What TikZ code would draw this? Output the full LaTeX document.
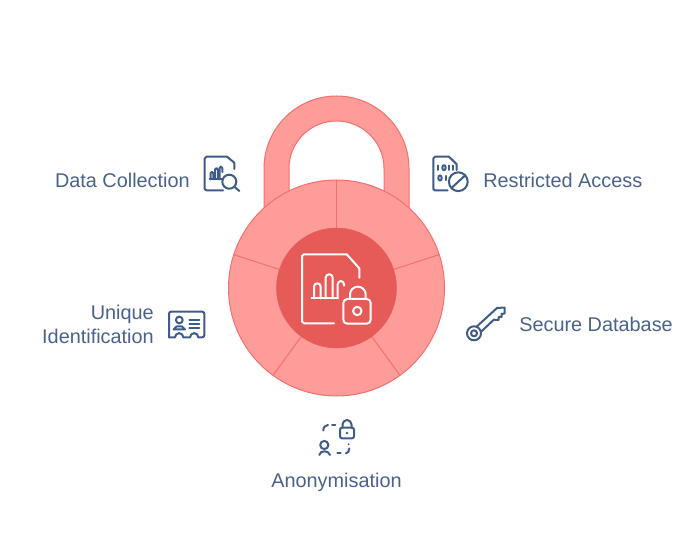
\documentclass[tikz,border=0pt]{standalone}
\usepackage{fontspec}
\setmainfont{Liberation Sans}
\definecolor{lockfill}{HTML}{FE9C9A}
\definecolor{lockline}{HTML}{F4706E}
\definecolor{lockcore}{HTML}{E65A58}
\definecolor{labelblue}{HTML}{4A628A}
\definecolor{iconblue}{HTML}{3F5B87}
\tikzstyle{ring part}=[draw=lockline,fill=lockfill,line width=0.75pt]
\tikzstyle{core}=[circle,fill=lockcore,draw=lockcore!90!lockfill,minimum size=90pt,inner sep=0pt]
\tikzstyle{label}=[text=labelblue,font=\fontsize{14.9}{18}\selectfont,inner sep=0pt]
\tikzstyle{icon}=[draw=iconblue,line width=1.5pt,line cap=round,line join=round]
\tikzstyle{white icon}=[draw=white,line width=1.5pt,line cap=round,line join=round]

\begin{document}
\begin{tikzpicture}[x=0.75pt,y=-0.75pt]
    \useasboundingbox (0,0) rectangle (685,541);
    % shackle
    \path[ring part] (264,240) -- (264,168.5) arc (180:360:72.5) -- (409,240) -- (384,240)
        -- (384,168.5) arc (360:180:47.5) -- (289,240) -- cycle;
    % wheel
    \coordinate (hub) at (336.5,288);
    \path[ring part] (hub) circle (108);
    \foreach \angle in {-90,-18,54,126,198}
        \draw[lockline,line width=0.75pt] (hub) -- ++(\angle:108);
    \node[core] (centre) at (hub) {};
    % centre icon
    \draw[white icon] (334,323.3) -- (304,323.3) -- (302,321.5) -- (302,256) -- (304,254.3)
        -- (346.7,254.3) -- (359.3,268.3) -- (359.3,277.7);
    \draw[white icon] (311.7,298.3) -- (338,298.3);
    \draw[white icon,rounded corners=2.5pt] (314,298.3) -- (314,283.3) -- (320.7,283.3) -- (320.7,298.3);
    \draw[white icon,rounded corners=2.5pt] (325.7,298.3) -- (325.7,274.3) -- (332.7,274.3) -- (332.7,298.3);
    \draw[white icon,rounded corners=2.5pt] (337.7,298.3) -- (337.7,281) -- (344,281) -- (344,285.7);
    \draw[white icon,rounded corners=3pt] (343.3,299) rectangle (370.7,323.7);
    \draw[white icon] (350,299) -- (350,294.5) arc (180:360:7.85) -- (365.7,299);
    \draw[white icon] (357.3,311) circle (4.2);
    % labels
    \node[label,anchor=east] (collection) at (190,180.5) {Data Collection};
    \node[label,anchor=west] (restricted) at (483,180.5) {Restricted Access};
    \node[label,anchor=west] (database) at (519,324.5) {Secure Database};
    \node[label,anchor=east,align=right] (unique) at (154,324) {Unique\\Identification};
    \node[label] (anonym) at (336.5,482) {Anonymisation};
    % data collection icon
    \draw[icon] (223,190.5) -- (206.5,190.5) -- (204.7,189) -- (204.7,158.5) -- (206.5,156.7)
        -- (227,156.7) -- (234.3,162.7) -- (234.3,169);
    \draw[icon] (209.5,179.3) -- (223,179.3);
    \draw[icon,rounded corners=1pt] (210.5,179.3) -- (210.5,172) -- (213.3,172) -- (213.3,179.3);
    \draw[icon,rounded corners=1pt] (215,179.3) -- (215,168.3) -- (218,168.3) -- (218,179.3);
    \draw[icon,rounded corners=1pt] (219.5,179.3) -- (219.5,166.7) -- (222.3,166.7) -- (222.3,172);
    \draw[icon] (229.3,181.7) circle (7);
    \draw[icon] (234.3,186.7) -- (239.3,191);
    % restricted access icon
    \draw[icon] (447.7,190.5) -- (435,190.5) -- (433.3,189) -- (433.3,158.5) -- (435,156.7)
        -- (449,156.7) -- (456.7,164.3) -- (456.7,170);
    \foreach \pos in {438.3,449,453.3}
        \draw[icon] (\pos,165.5) -- (\pos,170);
    \draw[icon] (444,167.7) ellipse (1.7 and 2.6);
    \draw[icon] (440,178) ellipse (1.7 and 2.6);
    \draw[icon] (445.7,175.8) -- (445.7,180.2);
    \draw[icon] (458.3,181.7) circle (9.4);
    \draw[icon] (451.5,188) -- (465,175.5);
    % unique identification icon
    \draw[icon,rounded corners=1.5pt] (169,337.3) -- (169,311.7) -- (204.3,311.7) -- (204.3,337.3) -- (198.3,337.3);
    \draw[icon] (198.3,337.3) arc (0:-180:4.15) -- (183.3,337.3) arc (0:-180:4.15) -- (169,337.3);
    \draw[icon] (179.3,320) circle (3.4);
    \draw[icon] (173.5,329.5) -- (176.5,326.5) -- (182,326.5) -- (185,329.5) -- cycle;
    \foreach \row in {320,324,328.3}
        \draw[icon] (189.3,\row) -- (199.3,\row);
    % secure database icon
    \draw[icon] (474,333.3) circle (7);
    \draw[icon] (474,333.3) circle (3);
    \draw[icon] (476.5,326.8) -- (497,308) -- (504.5,307.5) -- (504.5,313.5) -- (501.5,314) -- (501.5,317)
        -- (498.5,317) -- (498.5,320) -- (495.5,320) -- (494,319.5) -- (480.8,332);
    % anonymisation icon
    \draw[icon,rounded corners=1.5pt] (340,427.7) rectangle (354,438.3);
    \draw[icon] (342.5,427.7) -- (342.5,424.5) arc (180:360:4.5) -- (351.5,427.7);
    \fill[iconblue] (347,433) circle (1.3);
    \draw[icon] (324.3,445) circle (4.1);
    \draw[icon] (319.3,455) .. controls (320,450) and (328.5,450) .. (330,455);
    \draw[icon] (323.3,430.5) .. controls (323.3,427) and (325,425.5) .. (328,425);
    \draw[icon] (332,425) -- (335.3,425);
    \draw[icon] (337.3,453.3) -- (340.7,453.3);
    \draw[icon] (346,453.3) .. controls (348,453.3) and (349.3,451) .. (349.3,448.5);
    \fill[iconblue] (348.6,444.3) circle (1);
\end{tikzpicture}
\end{document}
